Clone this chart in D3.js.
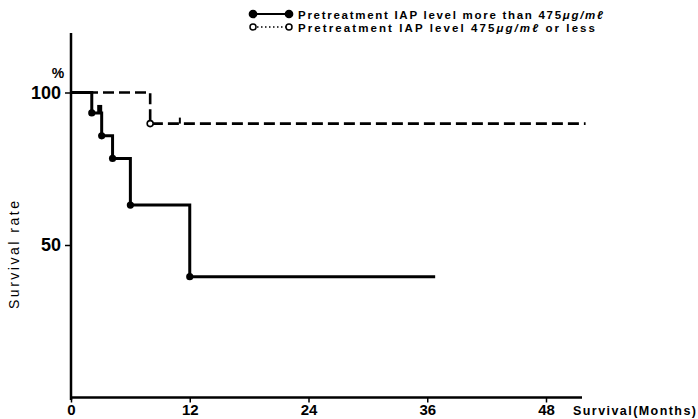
<!DOCTYPE html>
<html>
<head>
<meta charset="utf-8">
<script src="https://cdn.jsdelivr.net/npm/d3@7"></script>
<style>
  body { margin: 0; background: #fff; }
  svg { display: block; }
  .num { font-family: "Liberation Sans", Arial, sans-serif; font-weight: bold; }
  .lab { font-family: "Liberation Sans", Arial, sans-serif; font-weight: bold; }
</style>
</head>
<body>
<div id="chart"></div>
<script>
// survival curves (months, %)
const highMonths = [0, 2.1, 3.1, 4.2, 6.0, 12.0, 36.8];
const highSurvival = [100, 93.3, 85.8, 78.4, 63.1, 39.6, 39.6];
const highEvents = [2.1, 3.1, 4.2, 6.0, 12.0];   // filled dots
const highCensored = [2.9];

const lowMonths = [0, 8.0, 52];
const lowSurvival = [100, 89.8, 89.8];
const lowEvents = [8.0];                          // open circle
const lowCensored = [11.0];

const xTicks = [0, 12, 24, 36, 48];
const yTicks = [50, 100];
const legendLabels = [
    ["Pretreatment IAP level more than 475", "μg/mℓ", ""],
    ["Pretreatment IAP level 475", "μg/mℓ", " or less"]
];
const legendWidths = [305, 297];

const width = 698, height = 419;
const svg = d3.select("#chart").append("svg")
    .attr("width", width)
    .attr("height", height);

const x = d3.scaleLinear().domain([0, 48]).range([71, 546]);
const y = d3.scaleLinear().domain([0, 100]).range([397.5, 92.5]);

function stepAt(months, surv, t) {
    let v = surv[0];
    for (let i = 0; i < months.length; i++) if (months[i] <= t) v = surv[i];
    return v;
}

// axes
svg.append("line")
    .attr("x1", x(0)).attr("x2", x(0))
    .attr("y1", 33).attr("y2", 400)
    .attr("stroke", "#000").attr("stroke-width", 2.5);
svg.append("line")
    .attr("x1", x(0) - 1).attr("x2", 582)
    .attr("y1", y(0)).attr("y2", y(0))
    .attr("stroke", "#000").attr("stroke-width", 2.5);

const yAxis = svg.append("g")
    .attr("transform", `translate(${x(0)},0)`)
    .call(d3.axisLeft(y).tickValues(yTicks).tickSize(6).tickPadding(4));
yAxis.select(".domain").remove();
yAxis.selectAll("line").attr("stroke-width", 1.5);
yAxis.selectAll("text").attr("class", "num").attr("font-size", 18).attr("fill", "#000");

const xAxis = svg.append("g")
    .attr("transform", `translate(0,${y(0)})`)
    .call(d3.axisBottom(x).tickValues(xTicks).tickSize(5).tickPadding(2));
xAxis.select(".domain").remove();
xAxis.selectAll("line").attr("stroke-width", 1.5);
xAxis.selectAll("text").attr("class", "num").attr("font-size", 15).attr("fill", "#000");

svg.append("text").attr("class", "lab")
    .attr("x", 58).attr("y", 78)
    .attr("text-anchor", "middle")
    .attr("font-size", 14)
    .text("%");

svg.append("text").attr("class", "lab")
    .attr("transform", `translate(19,255) rotate(-90)`)
    .attr("text-anchor", "middle")
    .attr("font-size", 14)
    .style("font-weight", "normal")
    .attr("textLength", 108).attr("lengthAdjust", "spacing")
    .text("Survival rate");

svg.append("text").attr("class", "lab")
    .attr("x", 573).attr("y", 414.5)
    .attr("font-size", 12.5)
    .attr("textLength", 123).attr("lengthAdjust", "spacing")
    .text("Survival(Months)");

// curves
const step = d3.line()
    .x(d => x(d[0]))
    .y(d => y(d[1]))
    .curve(d3.curveStepAfter);

svg.append("path")
    .datum(lowMonths.map((m, i) => [m, lowSurvival[i]]))
    .attr("fill", "none").attr("stroke", "#000")
    .attr("stroke-width", 2.6)
    .attr("stroke-dasharray", "11,5")
    .attr("d", step);

svg.append("path")
    .datum(highMonths.map((m, i) => [m, highSurvival[i]]))
    .attr("fill", "none").attr("stroke", "#000")
    .attr("stroke-width", 3)
    .attr("d", step);

// censor ticks
svg.selectAll(".cHigh").data(highCensored).enter().append("line")
    .attr("x1", d => x(d)).attr("x2", d => x(d))
    .attr("y1", d => y(stepAt(highMonths, highSurvival, d)))
    .attr("y2", d => y(stepAt(highMonths, highSurvival, d)) - 8)
    .attr("stroke", "#000").attr("stroke-width", 5);
svg.selectAll(".cLow").data(lowCensored).enter().append("line")
    .attr("x1", d => x(d)).attr("x2", d => x(d))
    .attr("y1", d => y(stepAt(lowMonths, lowSurvival, d)))
    .attr("y2", d => y(stepAt(lowMonths, lowSurvival, d)) - 6)
    .attr("stroke", "#000").attr("stroke-width", 2);

// event markers
svg.selectAll(".eHigh").data(highEvents).enter().append("circle")
    .attr("cx", d => x(d))
    .attr("cy", d => y(stepAt(highMonths, highSurvival, d)))
    .attr("r", 3.6).attr("fill", "#000");
svg.selectAll(".eLow").data(lowEvents).enter().append("circle")
    .attr("cx", d => x(d))
    .attr("cy", d => y(stepAt(lowMonths, lowSurvival, d)))
    .attr("r", 3).attr("fill", "#fff")
    .attr("stroke", "#000").attr("stroke-width", 1.6);

// legend
const legend = svg.selectAll(".legend")
    .data(legendLabels).enter().append("g")
    .attr("class", "legend")
    .attr("transform", (d, i) => `translate(0,${14 + 13 * i})`);

legend.append("line")
    .attr("x1", 253).attr("x2", 289)
    .attr("stroke", "#000")
    .attr("stroke-width", (d, i) => i === 0 ? 2 : 1.5)
    .attr("stroke-dasharray", (d, i) => i === 0 ? null : "1.5,2.5");
legend.each(function (d, i) {
    const g = d3.select(this);
    [253, 289].forEach(cx => {
        g.append("circle")
            .attr("cx", cx).attr("cy", 0)
            .attr("r", i === 0 ? 3.6 : 3)
            .attr("fill", i === 0 ? "#000" : "#fff")
            .attr("stroke", "#000").attr("stroke-width", 1.5);
    });
});

const lt = legend.append("text").attr("class", "lab")
    .attr("x", 298).attr("y", 4.5)
    .attr("font-size", 11.5)
    .attr("textLength", (d, i) => legendWidths[i])
    .attr("lengthAdjust", "spacing");
lt.append("tspan").text(d => d[0]);
lt.append("tspan").attr("font-style", "italic").text(d => d[1]);
lt.append("tspan").text(d => d[2]);
</script>
</body>
</html>
